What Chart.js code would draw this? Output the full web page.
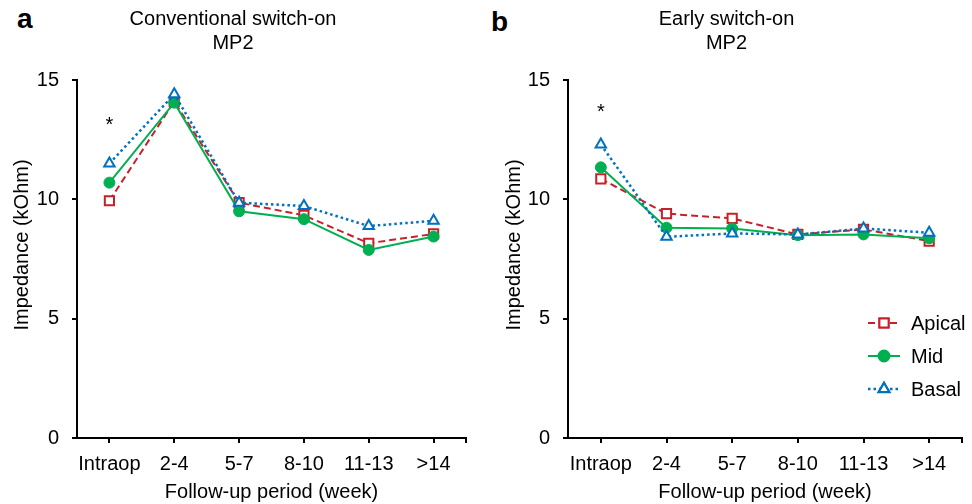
<!DOCTYPE html>
<html>
<head>
<meta charset="utf-8">
<script src="https://cdn.jsdelivr.net/npm/chart.js@4.4.0/dist/chart.umd.min.js"></script>
<style>
  body { margin: 0; background: #fff; }
  #wrap { position: relative; width: 972px; height: 504px; font-family: "Liberation Sans", Arial, sans-serif; }
  .panel { position: absolute; top: 0; height: 504px; }
  .letter { position: absolute; font-weight: bold; font-size: 28px; color: #000; }
</style>
</head>
<body>
<div id="wrap">
  <div class="letter" style="left:17px; top:3px;">a</div>
  <div class="letter" style="left:491px; top:6px;">b</div>
  <div class="panel" style="left:0px; width:486px;"><canvas id="chartA"></canvas></div>
  <div class="panel" style="left:491px; width:481px;"><canvas id="chartB"></canvas></div>
</div>
<script>
const periods = ['Intraop', '2-4', '5-7', '8-10', '11-13', '>14']
const yTicks = [0, 5, 10, 15]

// a: conventional switch-on
const apicalA = [9.94, 14.1, 9.86, 9.33, 8.16, 8.55]
const midA = [10.7, 14.05, 9.5, 9.17, 7.88, 8.44]
const basalA = [11.5, 14.4, 9.86, 9.72, 8.88, 9.1]

// b: early switch-on
const apicalB = [10.86, 9.4, 9.2, 8.53, 8.74, 8.25]
const midB = [11.34, 8.81, 8.78, 8.5, 8.53, 8.37]
const basalB = [12.3, 8.43, 8.57, 8.53, 8.78, 8.6]

// significance marks (category index, value)
const starA = [0, 13.25]
const starB = [0, 13.8]

const FONT = '"Liberation Sans", Arial, sans-serif'
const FS = 20
const RED = '#C8202A'
const GREEN = '#00B050'
const BLUE = '#0070C0'

const seriesStyle = [
  { label: 'Apical', color: RED, dash: [7, 4], lw: 2, pointStyle: 'rect', radius: 6.5, fill: '#fff', bw: 2 },
  { label: 'Mid', color: GREEN, dash: [], lw: 2, pointStyle: 'circle', radius: 5.5, fill: GREEN, bw: 1 },
  { label: 'Basal', color: BLUE, dash: [2.5, 3], lw: 2.5, pointStyle: 'triangle', radius: 6, fill: '#fff', bw: 2 }
]

// draws the y title, the star, the end tick of the x axis and (optionally) the legend
const extras = {
  id: 'extras',
  afterDraw(chart, args, opts) {
    const ctx = chart.ctx
    const xs = chart.scales.x
    const ys = chart.scales.y
    const area = chart.chartArea
    ctx.save()
    // closing tick at the right end of x axis
    ctx.strokeStyle = '#000'
    ctx.lineWidth = 2
    ctx.beginPath()
    ctx.moveTo(area.right, area.bottom)
    ctx.lineTo(area.right, area.bottom + 5)
    ctx.stroke()
    ctx.fillStyle = '#000'
    ctx.font = FS + 'px ' + FONT
    ctx.textAlign = 'center'
    ctx.textBaseline = 'middle'
    // y axis title
    ctx.save()
    ctx.translate(opts.yTitleX, 245)
    ctx.rotate(-Math.PI / 2)
    ctx.fillText('Impedance (kOhm)', 0, 0)
    ctx.restore()
    // star
    ctx.fillText('*', xs.getPixelForValue(opts.star[0]), ys.getPixelForValue(opts.star[1]) + 4)
    // legend
    if (opts.legend) {
      let y = 323
      const x0 = area.right - 94
      seriesStyle.forEach(s => {
        ctx.strokeStyle = s.color
        ctx.lineWidth = s.lw
        ctx.setLineDash(s.dash)
        ctx.beginPath()
        ctx.moveTo(x0, y)
        ctx.lineTo(x0 + 32, y)
        ctx.stroke()
        ctx.setLineDash([])
        Chart.helpers.drawPoint(ctx, {
          pointStyle: s.pointStyle, radius: s.radius, borderWidth: s.bw, rotation: 0
        }, x0 + 16, y)
        ctx.fillStyle = s.fill
        ctx.strokeStyle = s.color
        ctx.lineWidth = s.bw
        ctx.fill()
        ctx.stroke()
        ctx.fillStyle = '#000'
        ctx.textAlign = 'left'
        ctx.fillText(s.label, x0 + 43, y + 1)
        y += 33
      })
    }
    ctx.restore()
  }
}

function makeChart(id, title, data, star, legend, padRight, yTitleX) {
  const datasets = seriesStyle.map((s, i) => ({
    label: s.label,
    data: data[i],
    borderColor: s.color,
    borderWidth: s.lw,
    borderDash: s.dash,
    tension: 0,
    pointStyle: s.pointStyle,
    pointRadius: s.radius,
    pointBorderWidth: s.bw,
    pointBackgroundColor: s.fill,
    pointBorderColor: s.color,
    order: 3 - i
  }))
  return new Chart(document.getElementById(id), {
    type: 'line',
    data: { labels: periods, datasets: datasets },
    options: {
      responsive: true,
      maintainAspectRatio: false,
      animation: false,
      layout: { padding: { left: 0, right: padRight, top: 0, bottom: 0 } },
      plugins: {
        legend: { display: false },
        tooltip: { enabled: false },
        title: {
          display: true,
          text: title,
          color: '#000',
          font: { family: FONT, size: FS, weight: 'normal', lineHeight: 1.2 },
          padding: { top: 7, bottom: 25 }
        },
        extras: { star: star, legend: legend, yTitleX: yTitleX }
      },
      scales: {
        x: {
          type: 'category',
          offset: true,
          afterFit: s => { s.height = 66 },
          grid: { drawOnChartArea: false, drawTicks: true, tickLength: 5, color: '#000', lineWidth: 2, offset: false },
          border: { color: '#000', width: 2 },
          ticks: { color: '#000', font: { family: FONT, size: FS }, padding: 9, maxRotation: 0, autoSkip: false },
          title: {
            display: true, text: 'Follow-up period (week)', color: '#000',
            font: { family: FONT, size: FS }, padding: { top: 0, bottom: 0 }
          }
        },
        y: {
          min: 0,
          max: 15,
          afterBuildTicks: s => { s.ticks = yTicks.map(v => ({ value: v })) },
          afterFit: s => { s.width = 77 },
          grid: { drawOnChartArea: false, drawTicks: true, tickLength: 5, color: '#000', lineWidth: 2 },
          border: { color: '#000', width: 2 },
          ticks: { color: '#000', font: { family: FONT, size: FS }, padding: 13 }
        }
      }
    },
    plugins: [extras]
  })
}

makeChart('chartA', ['Conventional switch-on', 'MP2'], [apicalA, midA, basalA], starA, false, 20, 22)
makeChart('chartB', ['Early switch-on', 'MP2'], [apicalB, midB, basalB], starB, true, 10, 23)
</script>
</body>
</html>
